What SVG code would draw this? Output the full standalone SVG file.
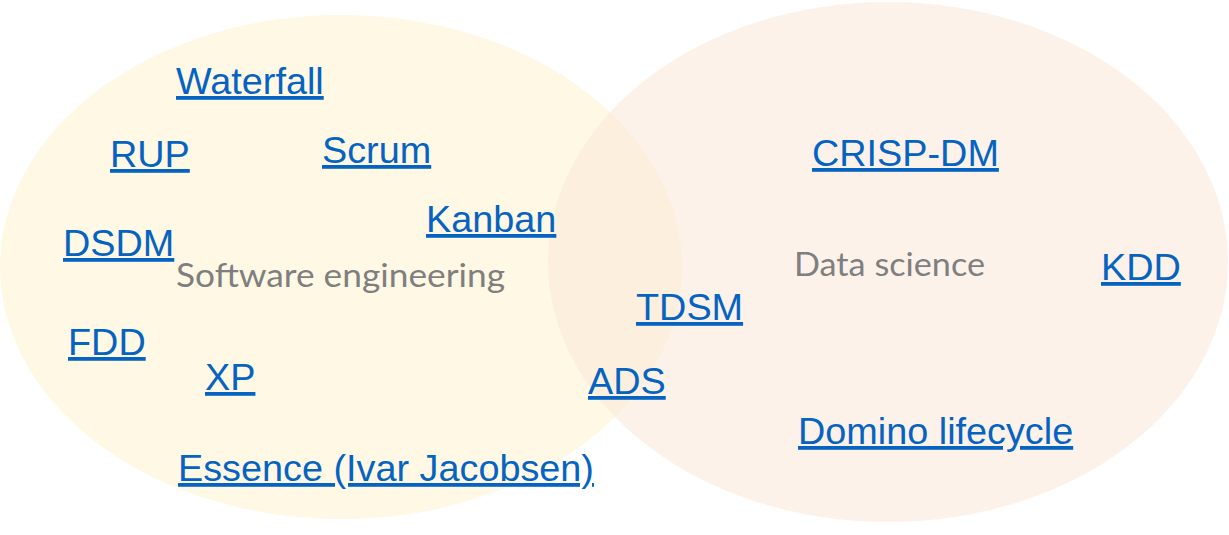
<svg xmlns="http://www.w3.org/2000/svg" width="1229" height="535" viewBox="0 0 1229 535">
<style>
.link{font-family:"Liberation Sans",Arial,sans-serif;font-size:37.8px;fill:#0563C1;text-decoration:underline;text-decoration-thickness:4px;text-underline-offset:3px;}
.lbl{font-family:Lato,"Open Sans",sans-serif;font-size:32px;fill:#7F7F7F;}
</style>
<rect width="1229" height="535" fill="#FFFFFF"/>
<g id="set-software-engineering">
<ellipse cx="341" cy="267" rx="341" ry="252" fill="#FFF2CC" fill-opacity="0.5"/>
<text class="lbl" x="176" y="287" textLength="329" lengthAdjust="spacingAndGlyphs">Software engineering</text>
</g>
<g id="set-data-science">
<ellipse cx="888" cy="262" rx="340" ry="260" fill="#FBE5D6" fill-opacity="0.5"/>
<text class="lbl" x="794" y="276" textLength="191" lengthAdjust="spacingAndGlyphs">Data science</text>
</g>
<g id="connectors"></g>
<g id="waterfall"><text class="link" x="176" y="94">Waterfall</text></g>
<g id="rup"><text class="link" x="110" y="167">RUP</text></g>
<g id="scrum"><text class="link" x="322" y="163">Scrum</text></g>
<g id="kanban"><text class="link" x="426" y="232">Kanban</text></g>
<g id="dsdm"><text class="link" x="63" y="256">DSDM</text></g>
<g id="fdd"><text class="link" x="68" y="355">FDD</text></g>
<g id="xp"><text class="link" x="205" y="390">XP</text></g>
<g id="essence"><text class="link" x="178" y="481">Essence (Ivar Jacobsen)</text></g>
<g id="tdsm"><text class="link" x="636" y="320">TDSM</text></g>
<g id="ads"><text class="link" x="588" y="394">ADS</text></g>
<g id="crisp-dm"><text class="link" x="812" y="166">CRISP-DM</text></g>
<g id="kdd"><text class="link" x="1101" y="280">KDD</text></g>
<g id="domino"><text class="link" x="798" y="444">Domino lifecycle</text></g>
</svg>
